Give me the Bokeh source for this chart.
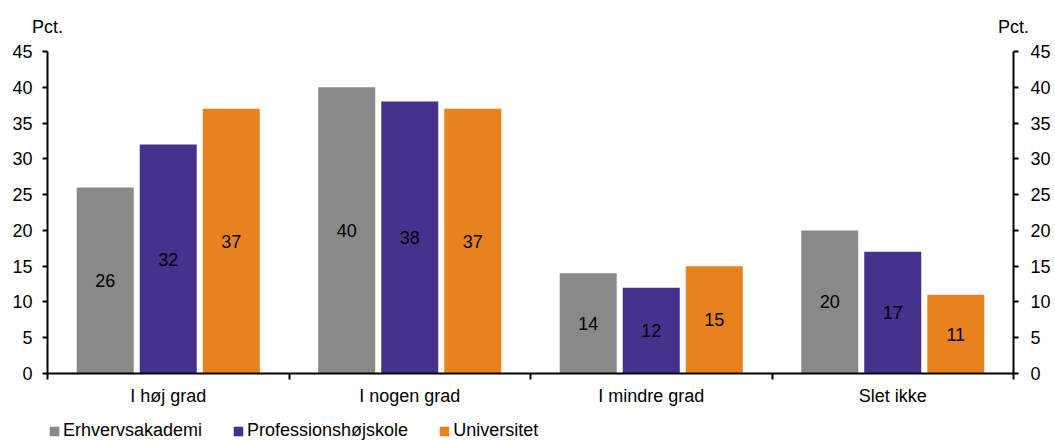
from bokeh.plotting import figure
from bokeh.layouts import column
from bokeh.models import (ColumnDataSource, LinearAxis, FixedTicker, Range1d,
                          Legend, LegendItem, LabelSet)
from bokeh.core.properties import value
from bokeh.embed import file_html
from bokeh.resources import INLINE

categories = ["I høj grad", "I nogen grad", "I mindre grad", "Slet ikke"]
series_names = ["Erhvervsakademi", "Professionshøjskole", "Universitet"]
erhvervsakademi = [26, 40, 14, 20]
professionshojskole = [32, 38, 12, 17]
universitet = [37, 37, 15, 11]
y_ticks = [0, 5, 10, 15, 20, 25, 30, 35, 40, 45]
unit_label = "Pct."

colors = ["#898989", "#46328D", "#E8821F"]
FONT = "Liberation Sans"
FS = "18px"
W = 1055


def bare(fig):
    fig.outline_line_color = None
    fig.xgrid.visible = False
    fig.ygrid.visible = False
    fig.background_fill_color = "white"
    return fig


# ---- main chart
p = bare(figure(width=W, height=408, output_backend="svg", toolbar_location=None,
                x_range=Range1d(0, 4), y_range=Range1d(0, 45),
                min_border_left=47, min_border_right=42, min_border_top=51,
                min_border_bottom=35, y_axis_location=None, x_axis_location=None))

offsets = [-0.261, 0.0, 0.261]
bar_w = 0.236
all_series = [erhvervsakademi, professionshojskole, universitet]
for j, vals in enumerate(all_series):
    xs = [i + 0.5 + offsets[j] for i in range(len(categories))]
    src = ColumnDataSource(dict(x=xs, top=vals, mid=[v / 2 for v in vals],
                                lab=[str(v) for v in vals]))
    p.vbar(x="x", top="top", width=bar_w, source=src, fill_color=colors[j],
           line_color=None)
    p.add_layout(LabelSet(x="x", y="mid", text="lab", source=src, text_align="center",
                          text_baseline="middle", text_font=value(FONT),
                          text_font_size=value(FS), text_color="black"))

xaxis = LinearAxis(ticker=FixedTicker(ticks=[i + 0.5 for i in range(len(categories))],
                                      minor_ticks=list(range(len(categories) + 1))))
xaxis.major_label_overrides = {i + 0.5: c for i, c in enumerate(categories)}
xaxis.major_tick_out = 0
xaxis.major_tick_in = 0
xaxis.minor_tick_out = 6
xaxis.minor_tick_in = 0
xaxis.minor_tick_line_width = 2
xaxis.minor_tick_line_color = "black"
xaxis.axis_line_width = 2
xaxis.axis_line_color = "black"
xaxis.major_label_standoff = 6
xaxis.major_label_text_font = FONT
xaxis.major_label_text_font_size = FS
xaxis.major_label_text_color = "black"
p.add_layout(xaxis, "below")

for side, standoff in (("left", 10), ("right", 12)):
    ax = LinearAxis(ticker=FixedTicker(ticks=y_ticks, minor_ticks=[]))
    ax.major_tick_out = 5
    ax.major_tick_in = 0
    ax.major_tick_line_width = 2
    ax.axis_line_width = 2
    ax.axis_line_color = "black"
    ax.major_tick_line_color = "black"
    ax.major_label_standoff = standoff
    ax.major_label_text_font = FONT
    ax.major_label_text_font_size = FS
    ax.major_label_text_color = "black"
    p.add_layout(ax, side)

# unit labels above both value axes
pct_axis = LinearAxis(ticker=FixedTicker(ticks=[0, len(categories)], minor_ticks=[]))
pct_axis.major_label_overrides = {0: unit_label, len(categories): unit_label}
pct_axis.axis_line_color = None
pct_axis.major_tick_line_color = None
pct_axis.major_tick_out = 0
pct_axis.major_tick_in = 0
pct_axis.major_label_standoff = 15
pct_axis.major_label_text_font = FONT
pct_axis.major_label_text_font_size = FS
pct_axis.major_label_text_color = "black"
p.add_layout(pct_axis, "above")

# ---- legend strip
p_leg = bare(figure(width=W, height=33, output_backend="svg", toolbar_location=None,
                    x_range=Range1d(0, 1), y_range=Range1d(0, 1),
                    min_border=0, x_axis_location=None, y_axis_location=None))
leg_rs = [p_leg.vbar(x=[0.5], top=[0], bottom=[0], width=0.0, fill_color=c,
                     line_color=None)
          for c in colors]
legend = Legend(items=[LegendItem(label=n, renderers=[r]) for n, r in zip(series_names, leg_rs)],
                orientation="horizontal", location=(1, 0),
                glyph_width=12, glyph_height=12, label_standoff=3, spacing=30,
                padding=0, margin=0, border_line_color=None,
                background_fill_alpha=0, label_text_font=FONT,
                label_text_font_size=FS, label_height=18,
                label_text_color="black")
p_leg.add_layout(legend, "center")

layout = column(p, p_leg, spacing=0)
open("out.html", "w").write(file_html(layout, INLINE))
